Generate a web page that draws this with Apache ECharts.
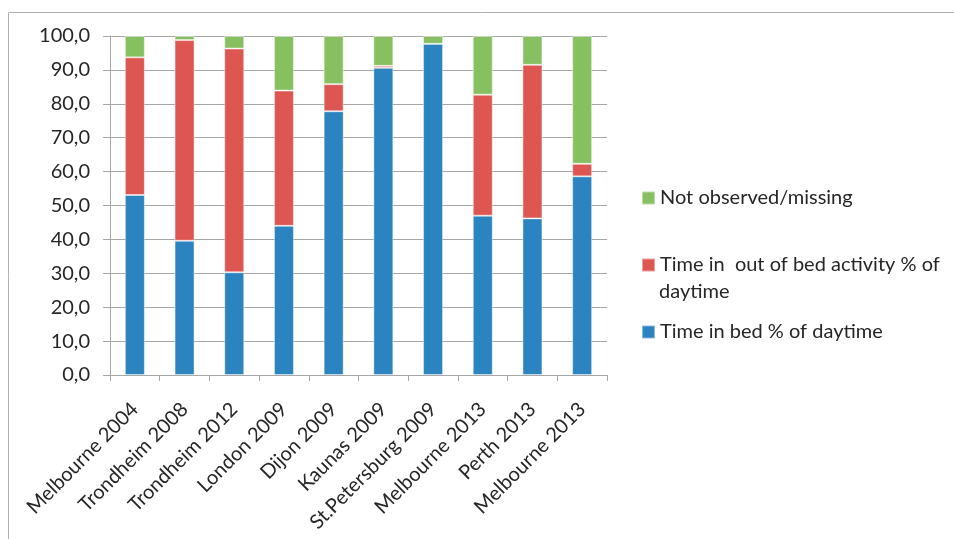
<!DOCTYPE html>
<html><head><meta charset="utf-8">
<script src="https://cdn.jsdelivr.net/npm/echarts@6/dist/echarts.min.js"></script>
<style>html,body{margin:0;padding:0;background:#fff}#c{width:954px;height:539px}</style>
</head><body><div id="c"></div>
<script>
var categories = ['Melbourne 2004','Trondheim 2008','Trondheim 2012','London 2009','Dijon 2009','Kaunas 2009','St.Petersburg 2009','Melbourne 2013','Perth 2013','Melbourne 2013 '];
var inBed = [53.1, 39.6, 30.3, 44.0, 77.8, 90.6, 97.7, 47.0, 46.2, 58.6];
var outOfBed = [40.6, 59.2, 66.0, 39.9, 8.0, 0.6, 0.0, 35.7, 45.3, 3.7];
var missing = [6.3, 1.2, 3.7, 16.1, 14.2, 8.8, 2.3, 17.3, 8.5, 37.7];
var yTicks = [0, 10, 20, 30, 40, 50, 60, 70, 80, 90, 100];

var FONT = 'Lato';
var TXT = '#262626';
var names = ['Time in bed % of daytime', 'Time in  out of bed activity % of daytime', 'Not observed/missing'];
var colors = ['#2B83BF', '#DD5652', '#86C061'];

var chart = echarts.init(document.getElementById('c'));
function mkLegend(name, top, label) {
  return {
    data: [name], left: 641, top: top, padding: 0, itemWidth: 13, itemHeight: 13,
    icon: 'rect', selectedMode: false,
    textStyle: {fontFamily: FONT, fontSize: 20, color: TXT, lineHeight: 20},
    formatter: function () { return label; }
  };
}
chart.setOption({
  animation: false,
  textStyle: {fontFamily: FONT},
  grid: {left: 110, top: 36, width: 497, height: 339, containLabel: false},
  legend: [
    mkLegend(names[2], 188, names[2]),
    mkLegend(names[1], 255, 'Time in  out of bed activity % of'),
    mkLegend(names[0], 322, names[0])
  ],
  graphic: [
    {type: 'rect', shape: {x: 8.5, y: 12.5, width: 1200, height: 1200}, style: {fill: 'none', stroke: '#B0B0B0', lineWidth: 1}, silent: true, z: -10},
    {type: 'text', left: 659, top: 282, style: {text: 'daytime', font: '20px ' + FONT, fill: TXT}}
  ],
  xAxis: {
    type: 'category', data: categories,
    axisLine: {lineStyle: {color: '#A6A6A6', width: 1}},
    axisTick: {show: true, length: 6, lineStyle: {color: '#A6A6A6'}},
    axisLabel: {rotate: 45, margin: 31, fontSize: 20, color: TXT, fontFamily: FONT, interval: 0,
      formatter: function (v) { return v.trim(); }}
  },
  yAxis: {
    type: 'value', min: yTicks[0], max: yTicks[yTicks.length - 1], interval: yTicks[1] - yTicks[0],
    axisLine: {show: true, lineStyle: {color: '#A6A6A6'}},
    axisTick: {show: true, length: 7, lineStyle: {color: '#A6A6A6'}},
    splitLine: {lineStyle: {color: '#A6A6A6', width: 1}},
    axisLabel: {margin: 20, fontSize: 20, color: TXT, fontFamily: FONT,
      formatter: function (v) { return v.toFixed(1).replace('.', ','); }}
  },
  series: [
    {name: names[0], type: 'bar', stack: 's', data: inBed, barWidth: 20, itemStyle: {color: colors[0], borderColor: 'rgba(255,255,255,0.45)', borderWidth: 1}},
    {name: names[1], type: 'bar', stack: 's', data: outOfBed, barWidth: 20, itemStyle: {color: colors[1], borderColor: 'rgba(255,255,255,0.45)', borderWidth: 1}},
    {name: names[2], type: 'bar', stack: 's', data: missing, barWidth: 20, itemStyle: {color: colors[2], borderColor: 'rgba(255,255,255,0.45)', borderWidth: 1}}
  ]
});
</script></body></html>
